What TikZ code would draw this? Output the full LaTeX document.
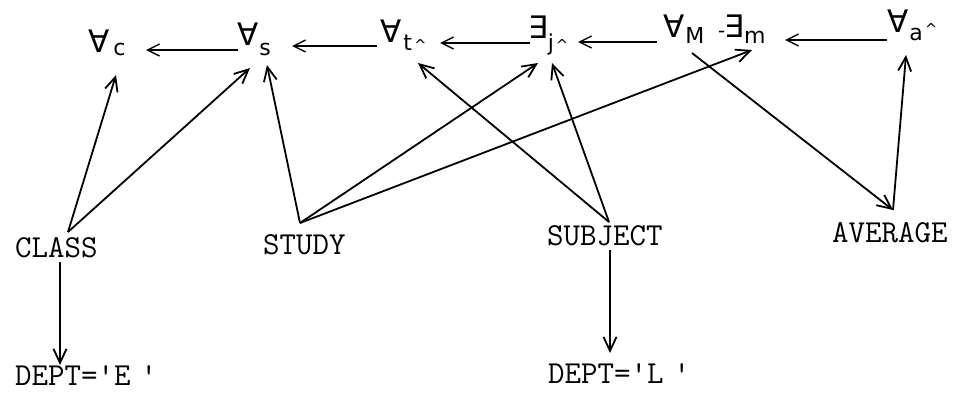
\documentclass[tikz,border=0pt]{standalone}
\usepackage{fontspec}
\usetikzlibrary{arrows.meta,calc}
\newfontfamily\qfont{DejaVu Sans}
\newcommand{\Qs}[4]{{\qfont\fontsize{31}{31}\selectfont #1}\kern#2\raisebox{-#4}{\qfont\fontsize{22}{22}\selectfont #3}}
\newcommand{\qhat}[1]{\kern2pt\raisebox{#1}{\qfont\fontsize{15}{15}\selectfont\textasciicircum}}
\begin{document}
\begin{tikzpicture}[x=1pt,y=-1pt,
  q/.style={inner sep=0pt,anchor=base west},
  lbl/.style={inner sep=0pt,anchor=base west,font=\ttfamily\fontsize{32}{32}\selectfont},
  arr/.style={-{Straight Barb[length=14pt,width=13pt]},line width=1.8pt},
  harr/.style={-{Straight Barb[length=12pt,width=12pt]},line width=1.4pt}]
\useasboundingbox (0,0) rectangle (960,399);
% quantifier nodes
\node[q] (Ac) at (88,52) {\Qs{∀}{4pt}{c}{3pt}};
\node[q] (As) at (237,45) {\Qs{∀}{1pt}{s}{10pt}};
\node[q] (At) at (380,42) {\Qs{∀}{2pt}{t\qhat{0pt}}{8pt}};
\node[q] (Ej) at (528,38) {\Qs{∃}{0pt}{j\qhat{0pt}}{12pt}};
\node[q] (AM) at (663,37) {\Qs{∀}{1pt}{M}{6pt}};
\node[q] (Em) at (718,37) {{\qfont\fontsize{20}{20}\selectfont -}\kern-1pt\Qs{∃}{0pt}{m}{6pt}};
\node[q] (Aa) at (887,32) {\Qs{∀}{1pt}{a\qhat{6pt}}{8pt}};
% relation nodes
\node[lbl] (class) at (15,257) {CLASS};
\node[lbl] (study) at (263,254) {STUDY};
\node[lbl] (subject) at (547,245) {SUBJECT};
\node[lbl] (average) at (832,242) {AVERAGE};
\node[lbl] (depte) at (15,385) {DEPT='E\kern10pt'};
\node[lbl] (deptl) at (548,383) {DEPT='L\kern10pt'};
% horizontal arrows
\draw[harr] ($(As.base west)+(1,5)$) -- ($(Ac.base west)+(58,-2)$);
\draw[harr] ($(At.base west)+(-3,4)$) -- ($(As.base west)+(55,1)$);
\draw[harr] ($(Ej.base west)+(2,5)$) -- ($(At.base west)+(60,1)$);
\draw[harr] ($(AM.base west)+(-6,5)$) -- ($(Ej.base west)+(50,4)$);
\draw[harr] ($(Aa.base west)+(0,8)$) -- ($(Em.base west)+(67,3)$);
% diagonal arrows
\draw[arr] ($(class.base west)+(53,-25)$) -- ($(Ac.base west)+(28,23)$);
\draw[arr] ($(class.base west)+(53,-25)$) -- ($(As.base west)+(13,23)$);
\draw[arr] ($(study.base west)+(37,-31)$) -- ($(As.base west)+(30,20)$);
\draw[arr] ($(study.base west)+(37,-31)$) -- ($(Ej.base west)+(10,25)$);
\draw[arr] ($(study.base west)+(37,-31)$) -- ($(Em.base west)+(34,13)$);
\draw[arr] ($(subject.base west)+(62,-23)$) -- ($(At.base west)+(38,21)$);
\draw[arr] ($(subject.base west)+(62,-23)$) -- ($(Ej.base west)+(24,25)$);
\draw[arr] ($(AM.base west)+(29,16)$) -- ($(average.base west)+(61,-32)$);
\draw[arr] ($(average.base west)+(61,-32)$) -- ($(Aa.base west)+(19,23)$);
% vertical arrows
\draw[arr] ($(class.base west)+(45,5)$) -- ($(depte.base west)+(45,-20)$);
\draw[arr] ($(subject.base west)+(63,5)$) -- ($(deptl.base west)+(62,-30)$);
\end{tikzpicture}
\end{document}
